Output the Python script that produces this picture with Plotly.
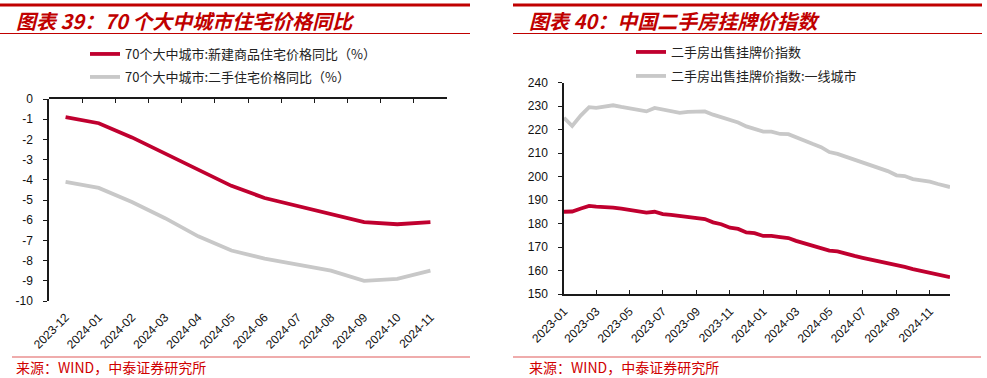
import plotly.graph_objects as go

# ---------------- Data: left chart (monthly YoY, %) ----------------
left_categories = ["2023-12", "2024-01", "2024-02", "2024-03", "2024-04", "2024-05",
                   "2024-06", "2024-07", "2024-08", "2024-09", "2024-10", "2024-11"]
new_home_yoy = [-0.9, -1.2, -1.9, -2.7, -3.5, -4.3, -4.9, -5.3, -5.7, -6.1, -6.2, -6.1]
second_hand_yoy = [-4.1, -4.4, -5.1, -5.9, -6.8, -7.5, -7.9, -8.2, -8.5, -9.0, -8.9, -8.5]
left_y_ticks = [0, -1, -2, -3, -4, -5, -6, -7, -8, -9, -10]
left_y_tick_labels = ["0", "-1", "-2", "-3", "-4", "-5", "-6", "-7", "-8", "-9", "-10"]

# ---------------- Data: right chart (listing price index) ----------------
right_dates = [
    "2023-01-01", "2023-01-16", "2023-02-01", "2023-02-16", "2023-03-01", "2023-03-16",
    "2023-04-01", "2023-04-16", "2023-05-01", "2023-05-16", "2023-06-01", "2023-06-16",
    "2023-07-01", "2023-07-16", "2023-08-01", "2023-08-16", "2023-09-01", "2023-09-16",
    "2023-10-01", "2023-10-16", "2023-11-01", "2023-11-16", "2023-12-01", "2023-12-16",
    "2024-01-01", "2024-01-16", "2024-02-01", "2024-02-16", "2024-03-01", "2024-03-16",
    "2024-04-01", "2024-04-16", "2024-05-01", "2024-05-16", "2024-06-01", "2024-06-16",
    "2024-07-01", "2024-07-16", "2024-08-01", "2024-08-16", "2024-09-01", "2024-09-16",
    "2024-10-01", "2024-10-16", "2024-11-01", "2024-11-16", "2024-12-01", "2024-12-08",
]
listing_index = [
    185.0, 185.1, 186.4, 187.5, 187.2, 187.1,
    186.8, 186.3, 185.7, 185.3, 184.6, 185.0,
    184.0, 183.7, 183.2, 182.9, 182.5, 181.9,
    180.5, 179.7, 178.2, 177.7, 176.2, 175.9,
    174.7, 174.7, 174.2, 173.8, 172.6, 171.6,
    170.4, 169.7, 168.5, 168.1, 166.9, 166.2,
    165.4, 164.7, 163.8, 163.1, 162.2, 161.5,
    160.6, 159.9, 158.9, 158.5, 157.6, 157.2,
]
listing_index_tier1 = [
    225.0, 221.5, 226.0, 229.5, 229.2, 229.8,
    230.3, 229.6, 229.0, 228.1, 227.7, 229.2,
    228.5, 227.8, 227.1, 227.5, 227.8, 227.7,
    226.3, 225.3, 224.0, 223.0, 221.3, 220.4,
    219.1, 219.1, 218.1, 218.0, 216.6, 215.5,
    213.8, 212.5, 210.4, 209.6, 208.4, 207.2,
    205.8, 205.0, 203.5, 202.3, 200.5, 200.2,
    198.9, 198.4, 197.8, 196.8, 196.1, 195.5,
]

RED = "#C0002F"
GRAY = "#C8C8C8"
AXIS = "#1a1a1a"
TICKFONT = dict(family="Liberation Sans, Arial, sans-serif", size=12, color="#111111")
CJK = "Noto Sans CJK SC, Noto Sans, sans-serif"
W, H = 987, 378


def px(x):
    return x / W


def py(y):
    return 1 - y / H


LEFT_XDOM = [px(49), px(447)]
LEFT_YDOM = [py(301), py(99)]

fig = go.Figure()

# Left chart: red on subplot (x, y) whose x axis carries the bottom labels;
# gray on subplot (x2, y3) in the same box, whose x axis is the top zero line.
fig.add_trace(go.Scatter(x=left_categories, y=new_home_yoy, mode="lines",
                         name="70个大中城市:新建商品住宅价格同比（%）",
                         line=dict(color=RED, width=3.8), xaxis="x", yaxis="y",
                         legend="legend"))
fig.add_trace(go.Scatter(x=left_categories, y=second_hand_yoy, mode="lines",
                         name="70个大中城市:二手住宅价格同比（%）",
                         line=dict(color=GRAY, width=3.8), xaxis="x2", yaxis="y3",
                         legend="legend2"))

# Right chart
fig.add_trace(go.Scatter(x=right_dates, y=listing_index, mode="lines",
                         name="二手房出售挂牌价指数",
                         line=dict(color=RED, width=3.8), xaxis="x3", yaxis="y2",
                         legend="legend3"))
fig.add_trace(go.Scatter(x=right_dates, y=listing_index_tier1, mode="lines",
                         name="二手房出售挂牌价指数:一线城市",
                         line=dict(color=GRAY, width=3.8), xaxis="x3", yaxis="y2",
                         legend="legend4"))

legend_common = dict(xanchor="left", yanchor="middle", bgcolor="rgba(0,0,0,0)",
                     borderwidth=0, font=dict(family=CJK, size=13, color="#222222"))

fig.update_layout(
    width=W, height=H,
    margin=dict(l=0, r=0, t=0, b=0, pad=0),
    paper_bgcolor="white", plot_bgcolor="rgba(0,0,0,0)",
    showlegend=True,
    # left, bottom label axis
    xaxis=dict(domain=LEFT_XDOM, anchor="y", type="category",
               categoryorder="array", categoryarray=left_categories,
               range=[-0.5, 11.5], showline=False, ticks="", tickangle=-45,
               tickfont=TICKFONT, showgrid=False, zeroline=False,
               ticklabelstandoff=6, automargin=False),
    # left, top line with boundary ticks
    xaxis2=dict(domain=LEFT_XDOM, anchor="y3", side="top",
                type="category", categoryorder="array", categoryarray=left_categories,
                range=[-0.5, 11.5], tickson="boundaries",
                ticks="inside", ticklen=4, tickcolor=AXIS, tickwidth=1.2,
                showline=True, linecolor=AXIS, linewidth=1.5,
                showticklabels=False, showgrid=False, zeroline=False, automargin=False),
    yaxis=dict(domain=LEFT_YDOM, anchor="x", range=[-10, 0],
               tickvals=left_y_ticks, ticktext=left_y_tick_labels,
               ticks="outside", ticklen=4, tickcolor=AXIS,
               showline=True, linecolor=AXIS, linewidth=1.5, tickfont=TICKFONT,
               showgrid=False, zeroline=False, ticklabelstandoff=8, automargin=False),
    yaxis3=dict(domain=LEFT_YDOM, anchor="x2", range=[-10, 0], visible=False,
                showgrid=False, zeroline=False, automargin=False),
    # right chart
    xaxis3=dict(domain=[px(564), px(950)], anchor="y2", type="date",
                range=["2023-01-01", "2024-12-08"], tick0="2023-01-01", dtick="M2",
                tickformat="%Y-%m", tickangle=-45, ticks="inside", ticklen=4,
                tickcolor=AXIS, showline=True, linecolor=AXIS, linewidth=1.5,
                tickfont=TICKFONT, showgrid=False, zeroline=False,
                ticklabelstandoff=4, automargin=False),
    yaxis2=dict(domain=[py(294), py(82.5)], anchor="x3", range=[150, 240], dtick=10,
                ticks="outside", ticklen=4, tickcolor=AXIS, showline=True,
                linecolor=AXIS, linewidth=1.5, tickfont=TICKFONT, showgrid=False,
                zeroline=False, ticklabelstandoff=8, automargin=False),
    legend=dict(x=px(85), y=py(54), **legend_common),
    legend2=dict(x=px(85), y=py(77), **legend_common),
    legend3=dict(x=px(631), y=py(52), **legend_common),
    legend4=dict(x=px(631), y=py(76), **legend_common),
)

# Titles, header rules and source notes
titles = [
    (14, "图表 39：70 个大中城市住宅价格同比"),
    (527, "图表 40：中国二手房挂牌价指数"),
]
for x0, txt in titles:
    fig.add_annotation(x=px(x0), y=py(20), xref="paper", yref="paper",
                       xanchor="left", yanchor="middle", showarrow=False,
                       text="<b><i>" + txt + "</i></b>",
                       font=dict(family=CJK, size=20, color="#C00000"))

for x0, x1 in [(0, 470), (513, 982)]:
    fig.add_shape(type="line", xref="paper", yref="paper", x0=px(x0), x1=px(x1),
                  y0=py(5), y1=py(5), line=dict(color="#C00000", width=3))
    fig.add_shape(type="line", xref="paper", yref="paper", x0=px(x0), x1=px(x1),
                  y0=py(33.5), y1=py(33.5), line=dict(color="#C00000", width=1.2))

for x0, x1 in [(12, 470), (513, 981)]:
    fig.add_shape(type="line", xref="paper", yref="paper", x0=px(x0), x1=px(x1),
                  y0=py(357), y1=py(357), line=dict(color="#E05A5A", width=1.2))

for x0 in [14, 527]:
    fig.add_annotation(x=px(x0), y=py(367), xref="paper", yref="paper",
                       xanchor="left", yanchor="middle", showarrow=False,
                       text="来源：WIND，中泰证券研究所",
                       font=dict(family=CJK, size=14, color="#D00000"))

fig.write_html(
    "out.html",
    config={"displayModeBar": False},
    post_script="document.body.style.margin='0px';document.body.style.padding='0px';",
)
